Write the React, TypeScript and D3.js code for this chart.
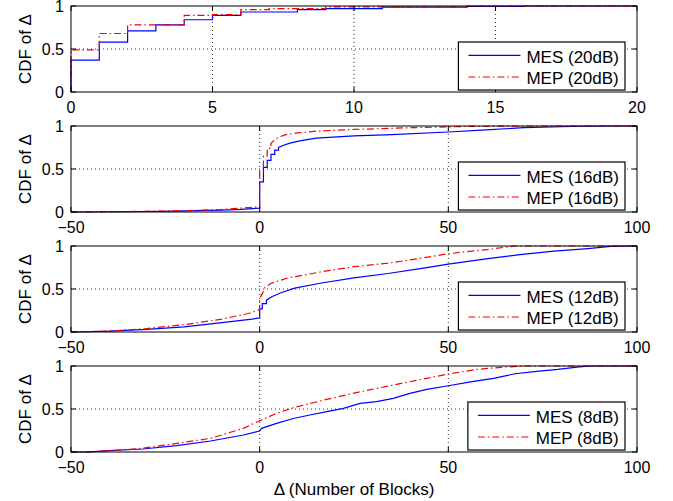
import { useEffect, useRef } from 'react';
import * as d3 from 'd3';

type Pt = [number, number];

const MES_20DB: Pt[] = [[0, 0], [0, 0.37], [1, 0.58], [2, 0.71], [3, 0.78], [4, 0.84], [5, 0.89], [6, 0.93], [8, 0.957], [9, 0.97], [11, 0.988], [14, 0.995], [16, 1], [20, 1]];
const MEP_20DB: Pt[] = [[0, 0], [0, 0.49], [1, 0.68], [2, 0.78], [4, 0.89], [5, 0.9], [6, 0.957], [7, 0.97], [9, 0.99], [14, 1], [20, 1]];

const MES_16DB: Pt[] = [[-50, 0], [-40, 0.003], [-30, 0.006], [-20, 0.012], [-10, 0.022], [-5, 0.03], [0, 0.045], [0, 0.35], [1, 0.35], [1, 0.52], [2, 0.52], [2, 0.6], [3, 0.6], [3, 0.67], [4, 0.67], [4, 0.72], [5, 0.72], [5, 0.75], [6, 0.77], [8, 0.8], [11, 0.83], [15, 0.86], [25, 0.885], [35, 0.9], [50, 0.93], [60, 0.955], [70, 0.98], [85, 0.997], [94, 1], [100, 1]];
const MEP_16DB: Pt[] = [[-50, 0], [-35, 0.005], [-20, 0.015], [-10, 0.03], [-5, 0.045], [0, 0.06], [0, 0.47], [1, 0.47], [1, 0.65], [2, 0.65], [2, 0.74], [3, 0.74], [3, 0.8], [4, 0.84], [5, 0.87], [7, 0.9], [10, 0.92], [15, 0.94], [25, 0.96], [40, 0.98], [55, 0.995], [68, 1], [100, 1]];

const MES_12DB: Pt[] = [[-50, 0], [-40, 0.01], [-30, 0.03], [-20, 0.06], [-10, 0.11], [-2, 0.15], [0, 0.165], [0, 0.27], [0.7, 0.27], [0.7, 0.33], [1.8, 0.33], [1.8, 0.37], [3.2, 0.41], [5.8, 0.46], [9.3, 0.51], [16.4, 0.57], [25, 0.63], [34, 0.68], [43, 0.74], [50, 0.79], [60, 0.85], [69, 0.9], [78, 0.94], [87, 0.97], [93, 0.995], [100, 1]];
const MEP_12DB: Pt[] = [[-50, 0], [-40, 0.01], [-30, 0.04], [-20, 0.085], [-10, 0.15], [-3, 0.215], [0, 0.26], [0, 0.39], [1, 0.47], [1.4, 0.52], [3.2, 0.57], [7.6, 0.63], [16.4, 0.7], [25, 0.76], [34, 0.8], [43, 0.86], [50, 0.91], [55, 0.935], [60.6, 0.96], [67.6, 1], [100, 1]];

const MES_8DB: Pt[] = [[-50, 0], [-45, 0.002], [-40, 0.015], [-31, 0.035], [-22, 0.074], [-13, 0.128], [-4.3, 0.198], [0, 0.244], [0.5, 0.275], [4.5, 0.333], [8.9, 0.39], [13.3, 0.43], [17.8, 0.47], [22.2, 0.508], [26.6, 0.566], [31, 0.585], [35.4, 0.624], [39.8, 0.682], [44.3, 0.729], [50, 0.77], [56.3, 0.818], [62, 0.857], [67.7, 0.91], [73.4, 0.938], [79, 0.96], [84.7, 0.99], [88, 1], [100, 1]];
const MEP_8DB: Pt[] = [[-50, 0], [-45, 0.002], [-40, 0.015], [-31, 0.043], [-22, 0.1], [-13, 0.159], [-4.3, 0.275], [0, 0.364], [4.5, 0.45], [8.9, 0.515], [17.8, 0.612], [26.6, 0.7], [35.4, 0.779], [44.3, 0.857], [50, 0.907], [57.5, 0.96], [64, 0.985], [70.5, 1], [100, 1]];

const SNR_LABELS = ['20dB', '16dB', '12dB', '8dB'];
const X_TICKS_20DB = [0, 5, 10, 15, 20];
const X_TICKS_WIDE = [-50, 0, 50, 100];
const Y_TICKS = [0, 0.5, 1];
const Y_TICK_LABELS = ['0', '0.5', '1'];

const FONT = '"Liberation Sans", Arial, Helvetica, sans-serif';

export default function App() {
  const svgRef = useRef<SVGSVGElement>(null);

  useEffect(() => {
    const svg = d3.select(svgRef.current);
    svg.selectAll('*').remove();

    const width = 673;
    const height = 501;
    const left = 71;
    const right = 637;
    const ph = 86;
    const tops = [6, 126, 246, 366];

    svg.attr('width', width).attr('height', height).attr('viewBox', `0 0 ${width} ${height}`);
    svg.append('rect').attr('width', width).attr('height', height).attr('fill', '#fff');

    const panels = [
      { mes: MES_20DB, mep: MEP_20DB, ticks: X_TICKS_20DB, domain: [0, 20], step: true },
      { mes: MES_16DB, mep: MEP_16DB, ticks: X_TICKS_WIDE, domain: [-50, 100], step: false },
      { mes: MES_12DB, mep: MEP_12DB, ticks: X_TICKS_WIDE, domain: [-50, 100], step: false },
      { mes: MES_8DB, mep: MEP_8DB, ticks: X_TICKS_WIDE, domain: [-50, 100], step: false },
    ];

    panels.forEach((p, i) => {
      const g = svg.append('g').attr('transform', `translate(0,${tops[i]})`);
      const x = d3.scaleLinear().domain(p.domain).range([left, right]);
      const y = d3.scaleLinear().domain([0, 1]).range([ph, 0]);

      // grid
      const inner = p.ticks.slice(1, -1);
      g.selectAll('line.gx').data(inner).join('line')
        .attr('x1', d => x(d)).attr('x2', d => x(d))
        .attr('y1', 0).attr('y2', ph)
        .attr('stroke', '#000').attr('stroke-width', 0.8)
        .attr('stroke-dasharray', '1,3');
      g.append('line')
        .attr('x1', left).attr('x2', right)
        .attr('y1', y(0.5)).attr('y2', y(0.5))
        .attr('stroke', '#000').attr('stroke-width', 0.8)
        .attr('stroke-dasharray', '1,3');

      const line = d3.line<Pt>()
        .x(d => x(d[0]))
        .y(d => y(d[1]))
        .curve(p.step ? d3.curveStepAfter : d3.curveLinear);

      g.append('path').attr('d', line(p.mes))
        .attr('fill', 'none').attr('stroke', '#0000ff').attr('stroke-width', 1.2);
      g.append('path').attr('d', line(p.mep))
        .attr('fill', 'none').attr('stroke', '#ff0000').attr('stroke-width', 1.2)
        .attr('stroke-dasharray', '7,3,1.5,3');

      // box
      g.append('rect')
        .attr('x', left).attr('y', 0)
        .attr('width', right - left).attr('height', ph)
        .attr('fill', 'none').attr('stroke', '#000').attr('stroke-width', 1);

      // inward ticks
      const tl = 5;
      p.ticks.forEach(t => {
        g.append('line').attr('x1', x(t)).attr('x2', x(t)).attr('y1', ph).attr('y2', ph - tl).attr('stroke', '#000');
        g.append('line').attr('x1', x(t)).attr('x2', x(t)).attr('y1', 0).attr('y2', tl).attr('stroke', '#000');
        g.append('text')
          .attr('x', x(t)).attr('y', ph + 21)
          .attr('text-anchor', 'middle')
          .attr('font-family', FONT).attr('font-size', 16)
          .text(t < 0 ? `\u2212${Math.abs(t)}` : `${t}`);
      });
      Y_TICKS.forEach((t, k) => {
        g.append('line').attr('x1', left).attr('x2', left + tl).attr('y1', y(t)).attr('y2', y(t)).attr('stroke', '#000');
        g.append('line').attr('x1', right).attr('x2', right - tl).attr('y1', y(t)).attr('y2', y(t)).attr('stroke', '#000');
        g.append('text')
          .attr('x', 64).attr('y', y(t) + 6)
          .attr('text-anchor', 'end')
          .attr('font-family', FONT).attr('font-size', 16)
          .text(Y_TICK_LABELS[k]);
      });

      g.append('text')
        .attr('transform', `translate(31,${ph / 2}) rotate(-90)`)
        .attr('text-anchor', 'middle')
        .attr('font-family', FONT).attr('font-size', 17)
        .text('CDF of \u0394');

      // legend, anchored to lower right
      const lg = g.append('g');
      const box = lg.append('rect')
        .attr('y', ph - 50).attr('height', 48)
        .attr('fill', '#fff').attr('stroke', '#000').attr('stroke-width', 1.2);
      const labels = [`MES (${SNR_LABELS[i]})`, `MEP (${SNR_LABELS[i]})`];
      const texts = labels.map((lab, k) => lg.append('text')
        .attr('y', ph - 50 + (k === 0 ? 20.7 : 41.7))
        .attr('font-family', FONT).attr('font-size', 17)
        .text(lab));
      const tw = d3.max(texts, t => (t.node() as SVGTextElement).getComputedTextLength()) ?? 93;
      const bx1 = 625;
      const bx0 = bx1 - (tw + 6 + 6 + 52 + 10);
      box.attr('x', bx0).attr('width', bx1 - bx0);
      texts.forEach(t => t.attr('x', bx0 + 68));
      lg.append('line')
        .attr('x1', bx0 + 10).attr('x2', bx0 + 62)
        .attr('y1', ph - 50 + 13.3).attr('y2', ph - 50 + 13.3)
        .attr('stroke', '#0000ff').attr('stroke-width', 1.2);
      lg.append('line')
        .attr('x1', bx0 + 10).attr('x2', bx0 + 62)
        .attr('y1', ph - 50 + 35).attr('y2', ph - 50 + 35)
        .attr('stroke', '#ff0000').attr('stroke-width', 1.2)
        .attr('stroke-dasharray', '7,3,1.5,3');
    });

    svg.append('text')
      .attr('x', (left + right) / 2).attr('y', 495)
      .attr('text-anchor', 'middle')
      .attr('font-family', FONT).attr('font-size', 17)
      .text('\u0394 (Number of Blocks)');
  }, []);

  return (
    <svg ref={svgRef} style={{ position: 'absolute', left: 0, top: 0, display: 'block' }} />
  );
}
